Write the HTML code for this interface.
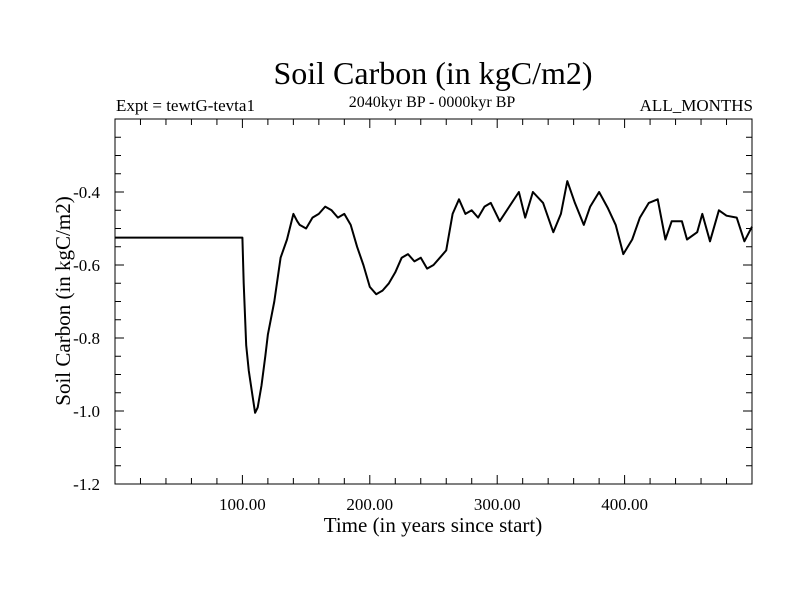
<!DOCTYPE html>
<html><head><meta charset="utf-8"><style>
body{margin:0;background:#fff}
svg text{font-family:"Liberation Serif",serif;fill:#000}
</style></head><body>
<svg id="chart" width="800" height="600">
<text x="433" y="84" font-size="32" text-anchor="middle">Soil Carbon (in kgC/m2)</text>
<text x="432" y="107" font-size="16" text-anchor="middle">2040kyr BP - 0000kyr BP</text>
<text x="116" y="111" font-size="17">Expt = tewtG-tevta1</text>
<text x="753" y="111" font-size="17" text-anchor="end">ALL_MONTHS</text>
<text x="433" y="532" font-size="21" text-anchor="middle">Time (in years since start)</text>
<text transform="translate(70,301) rotate(-90)" font-size="21" text-anchor="middle">Soil Carbon (in kgC/m2)</text>
<g id="axes"></g>
<path id="series" fill="none" stroke="#000" stroke-width="2" stroke-linejoin="round"/>
<rect x="115" y="119" width="637" height="365" fill="none" stroke="#000" stroke-width="1"/>
</svg>
<script>
const years=[0,100,101,103,105,108,110,112,115,118,120,125,130,135,140,143,145,150,155,160,165,170,175,180,185,190,195,200,205,210,215,220,225,230,235,240,245,250,255,260,265,270,275,280,285,290,295,302,317,322,328,336,344,350,355,361,368,373,380,387,393,399,406,412,419,426,432,437,445,449,457,461,467,474,480,488,494,500];
const carbon=[-0.525,-0.525,-0.65,-0.82,-0.89,-0.96,-1.005,-0.99,-0.93,-0.85,-0.79,-0.70,-0.58,-0.53,-0.46,-0.48,-0.49,-0.50,-0.47,-0.46,-0.44,-0.45,-0.47,-0.46,-0.49,-0.55,-0.60,-0.66,-0.68,-0.67,-0.65,-0.62,-0.58,-0.57,-0.59,-0.58,-0.61,-0.60,-0.58,-0.56,-0.46,-0.42,-0.46,-0.45,-0.47,-0.44,-0.43,-0.48,-0.40,-0.47,-0.40,-0.43,-0.51,-0.46,-0.37,-0.43,-0.49,-0.44,-0.40,-0.445,-0.49,-0.57,-0.53,-0.47,-0.43,-0.42,-0.53,-0.48,-0.48,-0.53,-0.51,-0.46,-0.535,-0.45,-0.465,-0.47,-0.535,-0.495];
const xTickValues=[100,200,300,400];
const xTickLabels=["100.00","200.00","300.00","400.00"];
const yTickValues=[-1.2,-1.0,-0.8,-0.6,-0.4];
const yTickLabels=["-1.2","-1.0","-0.8","-0.6","-0.4"];
const L=115,R=752,T=119,B=484,X0=0,X1=500,Y0=-1.2,Y1=-0.2;
const sx=v=>L+(v-X0)/(X1-X0)*(R-L);
const sy=v=>B-(v-Y0)/(Y1-Y0)*(B-T);
const NS="http://www.w3.org/2000/svg";
const g=document.getElementById('axes');
function line(x1,y1,x2,y2,name){const l=document.createElementNS(NS,'line');l.setAttribute('x1',x1);l.setAttribute('y1',y1);l.setAttribute('x2',x2);l.setAttribute('y2',y2);l.setAttribute('stroke','#000');


g.appendChild(l);}
function text(x,y,s,anchor,name){const t=document.createElementNS(NS,'text');t.setAttribute('x',x);t.setAttribute('y',y);t.setAttribute('font-size','17');t.setAttribute('text-anchor',anchor);t.textContent=s;


g.appendChild(t);}
for(let v=20;v<500;v+=20){const major=v%100===0;const x=sx(v);const len=major?9:6;line(x,B,x,B-len,'x-tick');line(x,T,x,T+len,'x-tick-top');}
for(let i=1;i<20;i++){const v=Y0+i*0.05;const major=i%4===0;const y=sy(v);const len=major?9:6;line(L,y,L+len,y,'y-tick');line(R,y,R-len,y,'y-tick-right');}
xTickValues.forEach((v,i)=>text(sx(v),510,xTickLabels[i],'middle','x-tick-label'));
yTickValues.forEach((v,i)=>text(100,sy(v)+6,yTickLabels[i],'end','y-tick-label'));
let d='';years.forEach((y,i)=>{d+=(i?'L':'M')+sx(y).toFixed(1)+' '+sy(carbon[i]).toFixed(1);});
document.getElementById('series').setAttribute('d',d);
</script>
</body></html>
